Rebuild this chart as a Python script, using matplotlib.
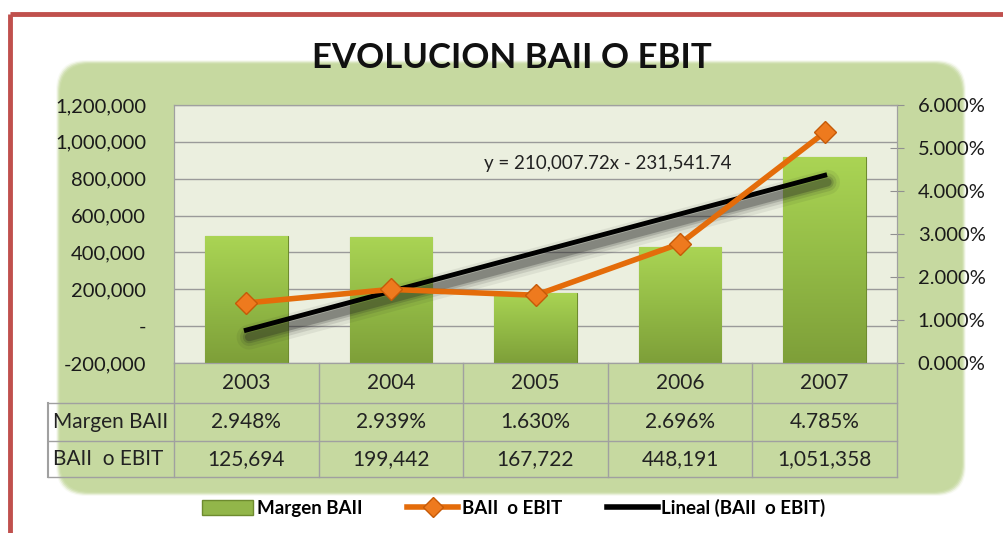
import numpy as np
import matplotlib
matplotlib.use("Agg")
import matplotlib.pyplot as plt
from matplotlib.patches import FancyBboxPatch, Patch
from matplotlib.lines import Line2D
from matplotlib.colors import LinearSegmentedColormap
import matplotlib.transforms as mtransforms

plt.rcParams['font.family'] = ['Lato', 'DejaVu Sans']

# datos
years = ['2003', '2004', '2005', '2006', '2007']
margen = [2.948, 2.939, 1.630, 2.696, 4.785]          # Margen BAII (%)
baii = [125694, 199442, 167722, 448191, 1051358]      # BAII o EBIT
left_ticks = [-200000, 0, 200000, 400000, 600000, 800000, 1000000, 1200000]
right_ticks = [0, 1, 2, 3, 4, 5, 6]
# tendencia lineal tal como aparece en el grafico
slope = 210007.72
intercept = -231541.74

W, H = 1004, 533
fig = plt.figure(figsize=(W / 100, H / 100), dpi=100)

# fondo: marco rojo y panel verde (en pixeles)
bg = fig.add_axes([0, 0, 1, 1], zorder=-10)
bg.set_xlim(0, W)
bg.set_ylim(H, 0)
bg.axis('off')
for i, a in enumerate(np.linspace(0.12, 1.0, 6)):
    g = 6 - i
    bg.add_patch(FancyBboxPatch((62 - g + 30, 66 - g + 30), 898 + 2 * g - 60, 424 + 2 * g - 60,
                                boxstyle="round,pad=30", fc='#C6D9A0', ec='none', alpha=a))
bg.plot([10, 10], [14, H + 5], color='#C0504D', lw=3.5, solid_capstyle='butt')
bg.plot([10, W + 5], [14, 14], color='#C0504D', lw=3.5, solid_capstyle='butt')

fig.text(0.51, 0.892, 'EVOLUCION BAII O EBIT', ha='center', va='center',
         fontsize=25, fontweight='bold', color='#111111')

# ejes
x = np.arange(len(years))
l, r, t, b = 174, 897, 105, 363
axb = fig.add_axes([l / W, 1 - b / H, (r - l) / W, (b - t) / H], zorder=1)
ax = axb.twinx()
ax.set_zorder(2)
ax.patch.set_visible(False)
axb.set_facecolor('#EBEFDF')

lo, hi = left_ticks[0], left_ticks[-1]
ax.set_ylim(lo, hi)

# lineas de la cuadricula (escala izquierda) detras de las barras
for v in left_ticks:
    yy = (v - lo) / (hi - lo) * right_ticks[-1]
    axb.axhline(yy, color='#9A9A9A', lw=1, zorder=0)

# barras con degradado
bars = axb.bar(x, margen, width=0.57, color='#98C24A', edgecolor='#6E8B2F', lw=0.8, zorder=2)
cmap = LinearSegmentedColormap.from_list('g', ['#7E9F39', '#93BB46', '#AAD454'])
grad = np.linspace(0, 1, 100).reshape(-1, 1)
for bar in bars:
    x0, y0 = bar.get_xy()
    im = axb.imshow(grad, extent=(x0, x0 + bar.get_width(), y0, y0 + bar.get_height()),
                    origin='lower', cmap=cmap, aspect='auto', zorder=2.5)
    im.set_clip_path(bar)
axb.set_xlim(-0.5, len(years) - 0.5)
axb.set_ylim(right_ticks[0], right_ticks[-1])

# linea de tendencia (x = 1..5)
n = np.arange(1, len(years) + 1)
trend = slope * n + intercept
for lw, al in [(18, 0.07), (13, 0.11), (9, 0.17), (6, 0.27)]:
    tr = mtransforms.offset_copy(ax.transData, fig=fig, x=2, y=-5, units='points')
    ax.plot(x, trend, color='#202020', lw=lw, alpha=al, transform=tr, solid_capstyle='round', zorder=3)
ax.plot(x, trend, color='black', lw=3.5, zorder=4)
ax.text(2.5, 880000, 'y = {:,.2f}x - {:,.2f}'.format(slope, -intercept), ha='center', va='center',
        fontsize=13.5, color='#222222', zorder=6)

ax.plot(x, baii, color='#E46C0A', lw=4, marker='D', markersize=11,
        markerfacecolor='#EE7A1E', markeredgecolor='#C55A08', zorder=5)

# ejes y etiquetas
ax.yaxis.tick_left()
ax.set_yticks(left_ticks)
ax.set_yticklabels(['-' if v == 0 else '{:,}'.format(v) for v in left_ticks])
ax.tick_params(axis='y', length=0, pad=20, labelsize=14.5, colors='#1A1A1A')
axb.yaxis.tick_right()
axb.set_yticks(right_ticks)
axb.set_yticklabels(['{:.3f}%'.format(v) for v in right_ticks])
axb.tick_params(axis='y', direction='inout', length=10, color='#909090', pad=10,
                labelsize=14.5, labelcolor='#1A1A1A')
axb.set_xticks([])
ax.set_xticks([])
for a in (ax, axb):
    for s in a.spines.values():
        s.set_color('#A0A0A0')

# tabla de datos
trans = mtransforms.blended_transform_factory(ax.transData, ax.transAxes)
rows = [-0.155, -0.302, -0.442]
hx = -0.174
lc = '#A0A0A0'
for xb in np.arange(-0.5, len(years)):
    ax.plot([xb, xb], [0, rows[-1]], color=lc, lw=1, transform=trans, clip_on=False)
for yr in rows:
    ax.plot([hx, 1], [yr, yr], color=lc, lw=1, transform=ax.transAxes, clip_on=False)
ax.plot([hx, hx], [rows[0], rows[-1]], color=lc, lw=1.5, transform=ax.transAxes, clip_on=False)
for i, yv in enumerate(years):
    ax.text(i, -0.0775, yv, transform=trans, ha='center', va='center', fontsize=15, color='#222222')
    ax.text(i, -0.229, '{:.3f}%'.format(margen[i]), transform=trans, ha='center', va='center',
            fontsize=15, color='#222222')
    ax.text(i, -0.372, '{:,}'.format(baii[i]), transform=trans, ha='center', va='center',
            fontsize=15, color='#222222')
ax.text(hx + 0.007, -0.229, 'Margen BAII', transform=ax.transAxes, ha='left', va='center',
        fontsize=15, color='#222222')
ax.text(hx + 0.007, -0.372, 'BAII  o EBIT', transform=ax.transAxes, ha='left', va='center',
        fontsize=15, color='#222222')

# leyenda
handles = [Patch(facecolor='#92B64A', edgecolor='#6E8B2F'),
           Line2D([], [], color='#E46C0A', lw=4, marker='D', markersize=10,
                  markerfacecolor='#EE7A1E', markeredgecolor='#C55A08'),
           Line2D([], [], color='black', lw=4)]
labels = ['Margen BAII', 'BAII  o EBIT', 'Lineal (BAII  o EBIT)']
fig.legend(handles, labels, loc='center', bbox_to_anchor=(0.512, 0.047), ncol=3, frameon=False,
           prop={'weight': 'bold', 'size': 13.5}, handlelength=2.7, handleheight=0.9,
           columnspacing=2.4, handletextpad=0.2)

fig.savefig('out.png', dpi=100)
